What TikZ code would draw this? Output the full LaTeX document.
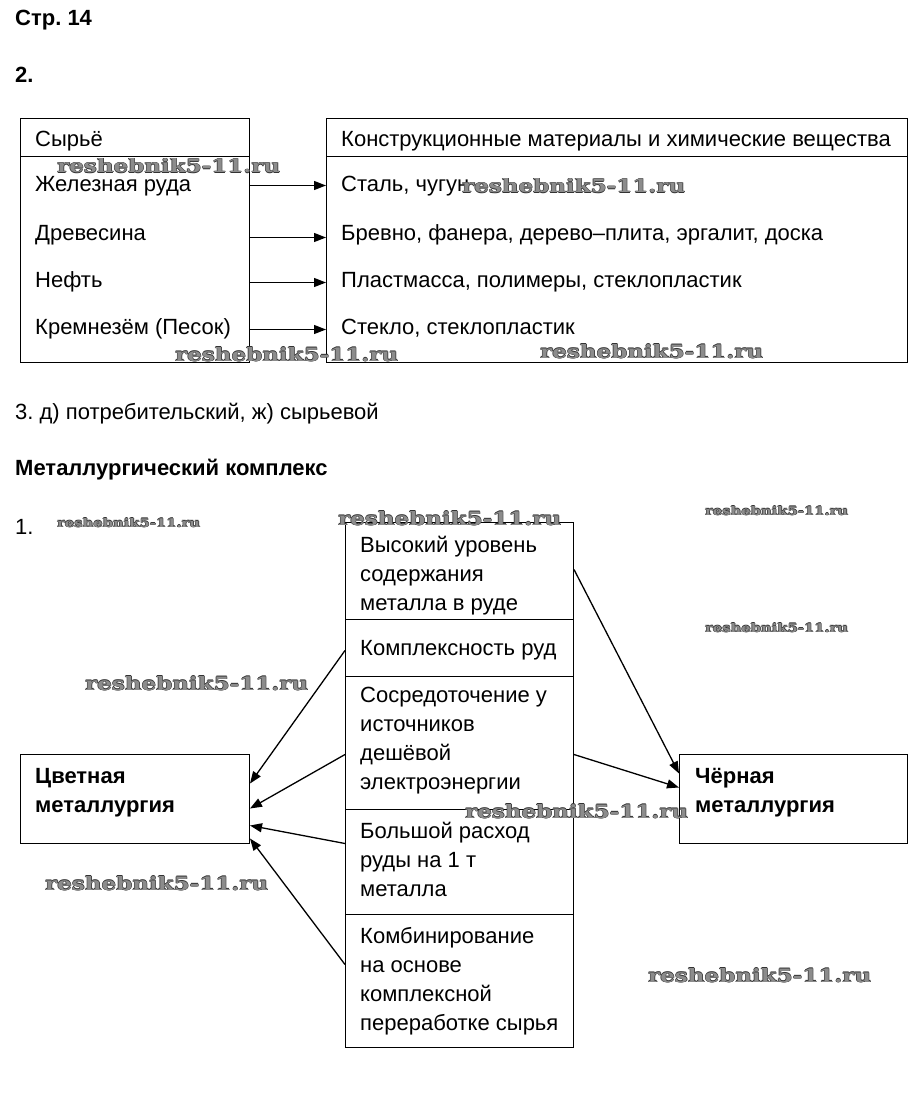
\documentclass[tikz,border=0pt]{standalone}
\usepackage{fontspec}
\usepackage{graphicx}
\setmainfont{Liberation Sans}
\newfontfamily\wmfont{DejaVu Serif}
\usetikzlibrary{arrows.meta}
\newcommand\wmraw[2]{\resizebox{#1}{#2}{\wmfont\bfseries reshebnik5-11.ru}}
\newcommand\wmtxt[2]{%
  \makebox[0pt][l]{\color{black!80}\hspace*{-0.6pt}\wmraw{#1}{#2}}%
  \makebox[0pt][l]{\color{black!80}\hspace*{0.6pt}\wmraw{#1}{#2}}%
  \makebox[0pt][l]{\color{black!80}\raisebox{0.6pt}{\wmraw{#1}{#2}}}%
  \makebox[0pt][l]{\color{black!80}\raisebox{-0.6pt}{\wmraw{#1}{#2}}}%
  {\color{black!45}\wmraw{#1}{#2}}}
\newcommand\wmbig{\wmtxt{223pt}{14pt}}
\newcommand\wmsmall{\wmtxt{143pt}{9pt}}
\begin{document}
\frenchspacing
\begin{tikzpicture}[x=1pt,y=-1pt,
  txt/.style={anchor=base west, inner sep=0pt, font=\fontsize{22}{29}\selectfont},
  btxt/.style={anchor=base west, inner sep=0pt, font=\fontsize{22}{29}\selectfont\bfseries},
  box/.style={draw, line width=1pt, rectangle, inner sep=0pt, anchor=north west},
  arr/.style={line width=1.3pt, -{Triangle[length=12pt,width=9pt]}},
  wm/.style={anchor=base west, inner sep=0pt}]
\useasboundingbox[fill=white] (0,0) rectangle (920,1094);

% headings
\node[btxt] (h1) at (15,26) {Стр. 14};
\node[btxt] (h2) at (15,83) {2.};

% top table
\node[box, minimum width=229pt, minimum height=244pt] (raw) at (20,118) {};
\node[box, minimum width=581pt, minimum height=244pt] (prod) at (326,118) {};
\draw[line width=1pt] (raw.north west) ++(0,39) coordinate (rl) -- (rl -| raw.east);
\draw[line width=1pt] (prod.north west) ++(0,39) coordinate (pl) -- (pl -| prod.east);

\node[txt] (l0) at (35,147) {Сырьё};
\node[txt] (r0) at (341,147) {Конструкционные материалы и химические вещества};
\node[txt] (l1) at (35,192) {Железная руда};
\node[txt] (r1) at (341,192) {Сталь, чугун};
\node[txt] (l2) at (35,240) {Древесина};
\node[txt] (r2) at (341,240) {Бревно, фанера, дерево–плита, эргалит, доска};
\node[txt] (l3) at (35,287) {Нефть};
\node[txt] (r3) at (341,287) {Пластмасса, полимеры, стеклопластик};
\node[txt] (l4) at (35,334) {Кремнезём (Песок)};
\node[txt] (r4) at (341,334) {Стекло, стеклопластик};

\draw[arr] ([yshift=55pt]raw.east) -- ([yshift=55pt]prod.west);
\draw[arr] ([yshift=3pt]raw.east) -- ([yshift=3pt]prod.west);
\draw[arr] ([yshift=-42pt]raw.east) -- ([yshift=-42pt]prod.west);
\draw[arr] ([yshift=-89pt]raw.east) -- ([yshift=-89pt]prod.west);

\node[txt] (q3) at (15,419) {3. д) потребительский, ж) сырьевой};
\node[btxt] (h3) at (15,475) {Металлургический комплекс};
\node[txt] (h4) at (15,534) {1.};

% central column
\node[box, minimum width=228pt, minimum height=97pt] (c1) at (345,522) {};
\node[box, minimum width=228pt, minimum height=57pt] (c2) at (345,619) {};
\node[box, minimum width=228pt, minimum height=133pt] (c3) at (345,676) {};
\node[box, minimum width=228pt, minimum height=105pt] (c4) at (345,809) {};
\node[box, minimum width=228pt, minimum height=133pt] (c5) at (345,914) {};

\node[txt] (t11) at (360,552) {Высокий уровень};
\node[txt] (t12) at (360,581) {содержания};
\node[txt] (t13) at (360,610) {металла в руде};
\node[txt] (t21) at (360,655) {Комплексность руд};
\node[txt] (t31) at (360,702) {Сосредоточение у};
\node[txt] (t32) at (360,731) {источников};
\node[txt] (t33) at (360,760) {дешёвой};
\node[txt] (t34) at (360,789) {электроэнергии};
\node[txt] (t41) at (360,838) {Большой расход};
\node[txt] (t42) at (360,867) {руды на 1 т};
\node[txt] (t43) at (360,896) {металла};
\node[txt] (t51) at (360,943) {Комбинирование};
\node[txt] (t52) at (360,972) {на основе};
\node[txt] (t53) at (360,1001) {комплексной};
\node[txt] (t54) at (360,1030) {переработке сырья};

% side boxes
\node[box, minimum width=229pt, minimum height=89pt] (cvet) at (20,754) {};
\node[btxt] (cv1) at (35,783) {Цветная};
\node[btxt] (cv2) at (35,812) {металлургия};
\node[box, minimum width=228pt, minimum height=89pt] (cher) at (679,754) {};
\node[btxt] (ch1) at (695,783) {Чёрная};
\node[btxt] (ch2) at (695,812) {металлургия};

% arrows
\draw[arr] ([yshift=-2.5pt]c2.west) -- ([yshift=15.5pt]cvet.east);
\draw[arr] ([yshift=-11.5pt]c3.west) -- ([yshift=-9.5pt]cvet.east);
\draw[arr] ([yshift=18.5pt]c4.west) -- ([yshift=-26.5pt]cvet.east);
\draw[arr] ([yshift=16.5pt]c5.west) -- ([yshift=-39.5pt]cvet.east);
\draw[arr] ([yshift=1.5pt]c1.east) -- ([yshift=25.5pt]cher.west);
\draw[arr] ([yshift=-11.5pt]c3.east) -- ([yshift=11.5pt]cher.west);

% watermarks
\node[wm] (w1) at (57,173) {\wmbig};
\node[wm] (w2) at (462,193) {\wmbig};
\node[wm] (w3) at (175,361) {\wmbig};
\node[wm] (w4) at (540,358) {\wmbig};
\node[wm] (w5) at (57,527) {\wmsmall};
\node[wm] (w6) at (338,525) {\wmbig};
\node[wm] (w7) at (705,515) {\wmsmall};
\node[wm] (w8) at (705,632) {\wmsmall};
\node[wm] (w9) at (85,690) {\wmbig};
\node[wm] (w10) at (465,818) {\wmbig};
\node[wm] (w11) at (45,890) {\wmbig};
\node[wm] (w12) at (648,982) {\wmbig};
\end{tikzpicture}
\end{document}
